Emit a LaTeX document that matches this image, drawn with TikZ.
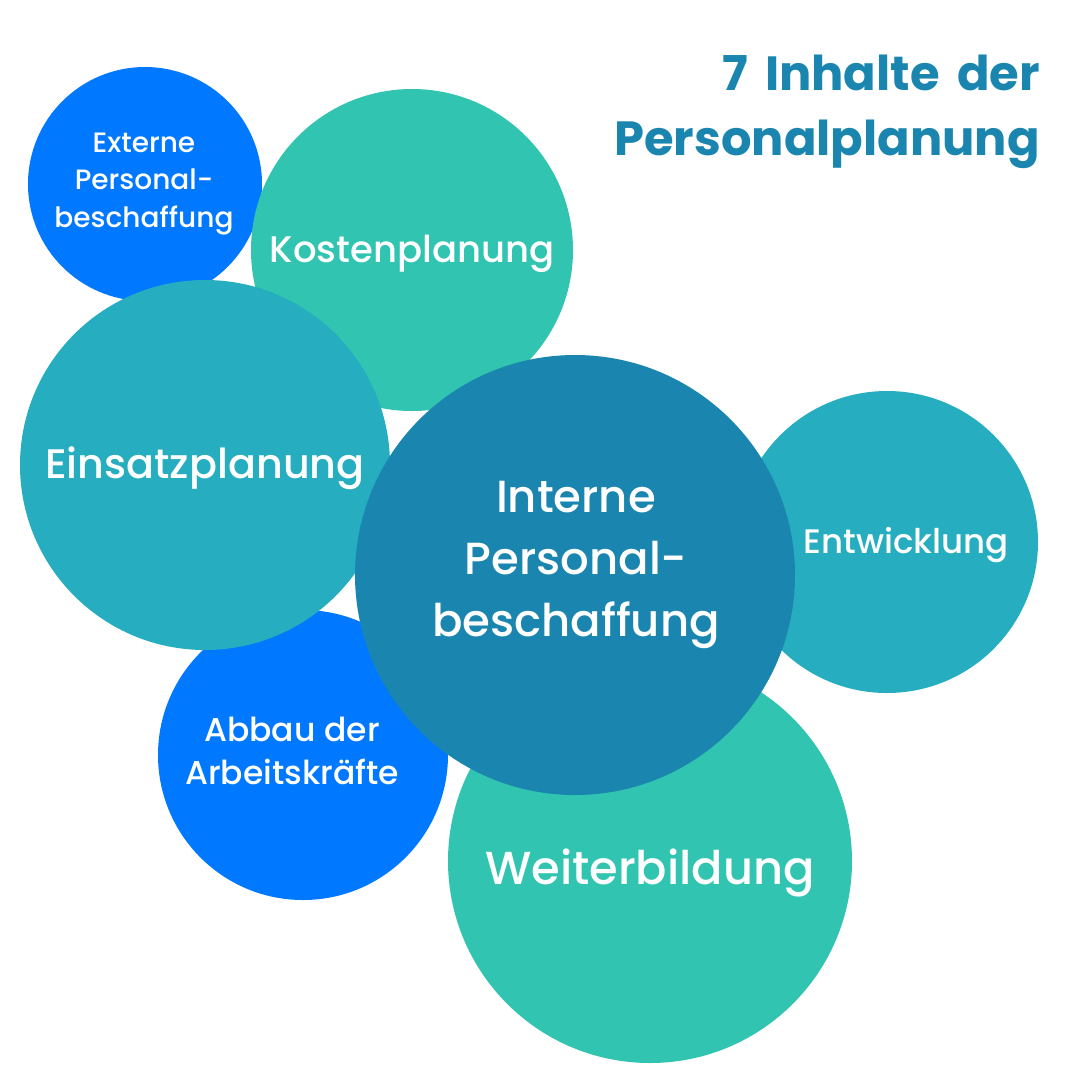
\documentclass[tikz,border=0pt]{standalone}
\usepackage{fontspec}
\setmainfont{Poppins}[UprightFont={* Medium}, BoldFont={* Bold},
  BoldFeatures={WordSpace=1.7}]
\usepackage{tikz}
\definecolor{bblue}{HTML}{0078FF}
\definecolor{bgreen}{HTML}{31C4B1}
\definecolor{bteal}{HTML}{26AEC0}
\definecolor{bdark}{HTML}{1A86B0}
\newcommand{\fsz}[2]{\fontsize{#1}{#2}\selectfont}
\tikzset{
  bub/.style ={circle, inner sep=0pt, outer sep=0pt},
  lbl/.style ={text=white, align=center, inner sep=0pt},
  ttl/.style ={anchor=north east, align=right, text=bdark, inner sep=0pt,
               font=\bfseries\fsz{48}{65}}
}

\begin{document}
\begin{tikzpicture}[x=1pt, y=-1pt]
  \useasboundingbox (0,0) rectangle (1080,1080);
  % bubbles, back to front
  \node[bub, fill=bblue, minimum size=234pt] (ext) at (145,184) {};
  \node[bub, fill=bgreen, minimum size=322pt] (kosten) at (412,250) {};
  \node[bub, fill=bblue, minimum size=290pt] (abbau) at (303,755) {};
  \node[bub, fill=bteal, minimum size=370pt] (einsatz) at (205,465) {};
  \node[bub, fill=bteal, minimum size=302pt] (entw) at (887,542) {};
  \node[bub, fill=bgreen, minimum size=404pt] (weiter) at (650,861) {};
  \node[bub, fill=bdark, minimum size=440pt] (intern) at (575,575) {};
  % labels
  \node[lbl, font=\fsz{28}{37.5}] (exttxt) at (144,184) {Externe\\Personal-\\beschaffung};
  \node[lbl, font=\fsz{37}{48}] (kostentxt) at (412,254) {Kostenplanung};
  \node[lbl, font=\fsz{41.3}{48}] (einsatztxt) at (205,468) {Einsatzplanung};
  \node[lbl, font=\fsz{45}{62}] (interntxt) at (576,565) {Interne\\Personal-\\beschaffung};
  \node[lbl, font=\fsz{34}{40}] (entwtxt) at (906,545) {Entwicklung};
  \node[lbl, font=\fsz{33}{43}] (abbautxt) at (292,751) {Abbau der\\Arbeitskräfte};
  \node[lbl, font=\fsz{46.3}{52}] (weitertxt) at (650,873) {Weiterbildung};
  % title
  \node[ttl] (titel) at (1040,55) {7 Inhalte der\\Personalplanung};
\end{tikzpicture}
\end{document}
